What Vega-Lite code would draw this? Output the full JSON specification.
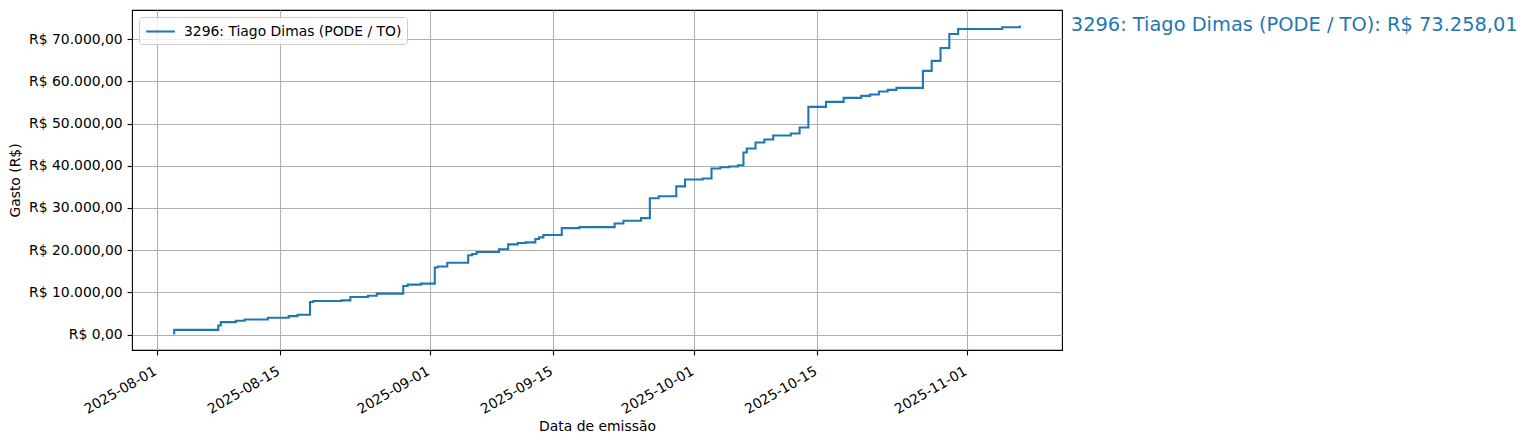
{
  "$schema": "https://vega.github.io/schema/vega-lite/v6.json",
  "width": 930,
  "height": 340,
  "autosize": {"type": "none"},
  "padding": {"left": 132, "top": 10, "right": 467, "bottom": 91},
  "background": "white",
  "encoding": {
    "x": {
      "field": "data",
      "type": "temporal",
      "title": "Data de emissão",
      "scale": {
        "domain": [
          {"year": 2025, "month": 7, "date": 29, "hours": 5},
          {"year": 2025, "month": 11, "date": 11, "hours": 19}
        ],
        "nice": false
      },
      "axis": {
        "values": [
          {"year": 2025, "month": 8, "date": 1},
          {"year": 2025, "month": 8, "date": 15},
          {"year": 2025, "month": 9, "date": 1},
          {"year": 2025, "month": 9, "date": 15},
          {"year": 2025, "month": 10, "date": 1},
          {"year": 2025, "month": 10, "date": 15},
          {"year": 2025, "month": 11, "date": 1}
        ],
        "format": "%Y-%m-%d",
        "labelAngle": -30,
        "labelAlign": "right",
        "labelBaseline": "top",
        "labelOffset": -5,
        "labelPadding": 9,
        "titlePadding": 3
      }
    },
    "y": {
      "field": "gasto",
      "type": "quantitative",
      "title": "Gasto (R$)",
      "scale": {"domain": [-3663, 76921], "nice": false, "zero": false},
      "axis": {
        "values": [0, 10000, 20000, 30000, 40000, 50000, 60000, 70000],
        "format": "$,.2f",
        "titlePadding": 6
      }
    }
  },
  "layer": [
    {
      "data": {
        "values": [
          {"data": "2025-08-03T00:00", "gasto": 0},
          {"data": "2025-08-03T00:00", "gasto": 1112},
          {"data": "2025-08-08T00:00", "gasto": 2144},
          {"data": "2025-08-08T07:00", "gasto": 2938},
          {"data": "2025-08-10T00:00", "gasto": 3255},
          {"data": "2025-08-11T00:00", "gasto": 3573},
          {"data": "2025-08-13T15:00", "gasto": 3970},
          {"data": "2025-08-16T00:00", "gasto": 4367},
          {"data": "2025-08-17T00:00", "gasto": 4684},
          {"data": "2025-08-18T10:00", "gasto": 7700},
          {"data": "2025-08-18T19:00", "gasto": 7940},
          {"data": "2025-08-22T00:00", "gasto": 8100},
          {"data": "2025-08-23T00:00", "gasto": 8893},
          {"data": "2025-08-25T00:00", "gasto": 9210},
          {"data": "2025-08-26T00:00", "gasto": 9687},
          {"data": "2025-08-29T00:00", "gasto": 11513},
          {"data": "2025-08-29T12:00", "gasto": 11830},
          {"data": "2025-08-31T00:00", "gasto": 12069},
          {"data": "2025-09-01T14:00", "gasto": 15885},
          {"data": "2025-09-01T22:00", "gasto": 16120},
          {"data": "2025-09-03T00:00", "gasto": 17030},
          {"data": "2025-09-05T09:00", "gasto": 18792},
          {"data": "2025-09-05T20:00", "gasto": 19106},
          {"data": "2025-09-06T08:00", "gasto": 19577},
          {"data": "2025-09-08T21:00", "gasto": 20205},
          {"data": "2025-09-09T22:00", "gasto": 21383},
          {"data": "2025-09-11T00:00", "gasto": 21697},
          {"data": "2025-09-11T22:00", "gasto": 21854},
          {"data": "2025-09-13T00:00", "gasto": 22640},
          {"data": "2025-09-13T10:00", "gasto": 23031},
          {"data": "2025-09-13T22:00", "gasto": 23580},
          {"data": "2025-09-16T00:00", "gasto": 25229},
          {"data": "2025-09-18T00:00", "gasto": 25465},
          {"data": "2025-09-22T00:00", "gasto": 26328},
          {"data": "2025-09-23T00:00", "gasto": 26956},
          {"data": "2025-09-25T00:00", "gasto": 27584},
          {"data": "2025-09-26T00:00", "gasto": 32294},
          {"data": "2025-09-27T00:00", "gasto": 32765},
          {"data": "2025-09-29T00:00", "gasto": 35120},
          {"data": "2025-09-30T00:00", "gasto": 36730},
          {"data": "2025-10-02T00:00", "gasto": 37002},
          {"data": "2025-10-03T00:00", "gasto": 39369},
          {"data": "2025-10-04T00:00", "gasto": 39640},
          {"data": "2025-10-05T00:00", "gasto": 39836},
          {"data": "2025-10-06T00:00", "gasto": 40110},
          {"data": "2025-10-06T15:00", "gasto": 43156},
          {"data": "2025-10-07T00:00", "gasto": 44103},
          {"data": "2025-10-08T00:00", "gasto": 45523},
          {"data": "2025-10-09T00:00", "gasto": 46233},
          {"data": "2025-10-10T00:00", "gasto": 47180},
          {"data": "2025-10-12T00:00", "gasto": 47653},
          {"data": "2025-10-13T00:00", "gasto": 49074},
          {"data": "2025-10-14T00:00", "gasto": 53965},
          {"data": "2025-10-16T00:00", "gasto": 55149},
          {"data": "2025-10-18T00:00", "gasto": 56096},
          {"data": "2025-10-20T00:00", "gasto": 56569},
          {"data": "2025-10-21T00:00", "gasto": 56885},
          {"data": "2025-10-22T00:00", "gasto": 57595},
          {"data": "2025-10-23T00:00", "gasto": 57989},
          {"data": "2025-10-24T00:00", "gasto": 58463},
          {"data": "2025-10-27T00:00", "gasto": 62487},
          {"data": "2025-10-28T00:00", "gasto": 64853},
          {"data": "2025-10-29T00:00", "gasto": 67931},
          {"data": "2025-10-30T00:00", "gasto": 71244},
          {"data": "2025-10-31T00:00", "gasto": 72428},
          {"data": "2025-11-05T00:00", "gasto": 72822},
          {"data": "2025-11-07T00:00", "gasto": 73258.01}
        ]
      },
      "mark": {"type": "line", "interpolate": "step-after", "strokeWidth": 2.1},
      "encoding": {
        "color": {
          "datum": "3296: Tiago Dimas (PODE / TO)",
          "scale": {"range": ["#1f77b4"]},
          "legend": {
            "orient": "top-left",
            "offset": 7,
            "title": null,
            "symbolType": "M-1.8,0H1.8",
            "symbolSize": 256,
            "symbolOffset": 7,
            "symbolStrokeWidth": 2.1,
            "labelFontSize": 13.9,
            "labelColor": "black",
            "labelLimit": 0,
            "labelOffset": 14,
            "strokeColor": "#cccccc",
            "fillColor": "rgba(255,255,255,0.8)",
            "cornerRadius": 3,
            "padding": 5
          }
        }
      }
    },
    {
      "data": {
        "values": [
          {"data": "2025-11-07T00:00", "gasto": 73258.01, "rotulo": "3296: Tiago Dimas (PODE / TO): R$ 73.258,01"}
        ]
      },
      "mark": {
        "type": "text",
        "align": "left",
        "baseline": "middle",
        "dx": 51,
        "fontSize": 19.4,
        "color": "#1f77b4"
      },
      "encoding": {
        "text": {"field": "rotulo", "type": "nominal"}
      }
    }
  ],
  "config": {
    "font": "DejaVu Sans",
    "locale": {
      "number": {"decimal": ",", "thousands": ".", "grouping": [3], "currency": ["R$ ", ""]}
    },
    "view": {"stroke": "black", "strokeWidth": 1.1},
    "axis": {
      "labelFont": "DejaVu Sans",
      "labelFontSize": 13.9,
      "labelColor": "black",
      "titleFont": "DejaVu Sans",
      "titleFontSize": 13.9,
      "titleFontWeight": "normal",
      "titleColor": "black",
      "tickColor": "black",
      "tickSize": 4.9,
      "tickWidth": 1.1,
      "labelPadding": 4.9,
      "domain": false,
      "grid": true,
      "gridColor": "#b0b0b0",
      "gridWidth": 1.1
    },
    "legend": {"labelFont": "DejaVu Sans"}
  }
}
